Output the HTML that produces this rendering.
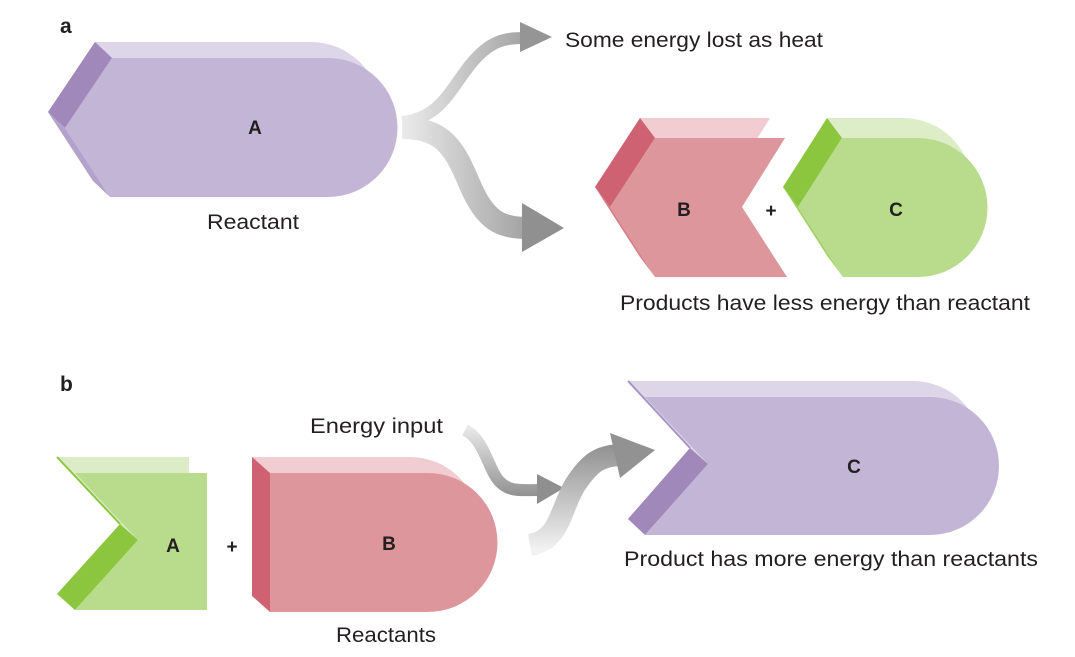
<!DOCTYPE html>
<html><head><meta charset="utf-8"><style>
html,body{margin:0;padding:0;background:#fff;}
svg{display:block}
text{font-family:"Liberation Sans",sans-serif;fill:#231f20;}
</style></head><body>
<svg width="1075" height="657" viewBox="0 0 1075 657" xmlns="http://www.w3.org/2000/svg">
<defs>
<linearGradient id="g2" gradientUnits="userSpaceOnUse" x1="400" y1="0" x2="565" y2="0"><stop offset="0" stop-color="#ececec"/><stop offset="1" stop-color="#8c8c8c"/></linearGradient>
<linearGradient id="g3" gradientUnits="userSpaceOnUse" x1="0" y1="425" x2="0" y2="500"><stop offset="0" stop-color="#ececec"/><stop offset="1" stop-color="#8c8c8c"/></linearGradient>
<linearGradient id="g4" gradientUnits="userSpaceOnUse" x1="0" y1="550" x2="0" y2="440"><stop offset="0" stop-color="#f2f2f2"/><stop offset="1" stop-color="#8c8c8c"/></linearGradient>
</defs>

<text x="60" y="33" font-size="21" font-weight="bold">a</text>
<text x="60" y="391" font-size="21" font-weight="bold">b</text>

<!-- Top A -->
<path d="M95,42 L311,42 A69.5,69.5 0 0 1 311,181 L93,181 L48,112 Z" fill="#ddd5e8"/>
<path d="M95,42 L112,58 L65,128 L48,112 Z" fill="#a088bb"/>
<path d="M48,112 L65,128 L110,197 L93,181 Z" fill="#b3a2cb"/>
<path d="M112,58 L328,58 A69.5,69.5 0 0 1 328,197 L110,197 L65,128 Z" fill="#c3b5d6"/>
<text x="255" y="134" font-size="19" font-weight="bold" text-anchor="middle">A</text>
<text x="253" y="229" font-size="21" text-anchor="middle" textLength="92" lengthAdjust="spacingAndGlyphs">Reactant</text>

<!-- arrows top -->
<path d="M402,122 C440,118 450,90 470,65 C490,40 505,38 525,38" fill="none" stroke="url(#g2)" stroke-width="12"/>
<polygon points="520,22 552,37 520,52" fill="#959595"/>
<path d="M402,128 C445,128 455,150 470,185 C485,220 500,228 527,228" fill="none" stroke="url(#g2)" stroke-width="22"/>
<polygon points="522,203 564,228 522,252" fill="#909090"/>
<text x="565" y="47" font-size="21" textLength="258" lengthAdjust="spacingAndGlyphs">Some energy lost as heat</text>

<!-- Top B -->
<path d="M640,118 L770,118 L727,187 L772,257 L640,257 L595,187 Z" fill="#f1ccd0"/>
<path d="M640,118 L655,138 L610,207 L595,187 Z" fill="#cf6272"/>
<path d="M595,187 L610,207 L655,277 L640,257 Z" fill="#d67d87"/>
<path d="M655,138 L785,138 L742,207 L787,277 L655,277 L610,207 Z" fill="#dd979c"/>
<text x="684" y="216" font-size="19" font-weight="bold" text-anchor="middle">B</text>
<text x="771" y="217" font-size="19" font-weight="bold" text-anchor="middle">+</text>

<!-- Top C -->
<path d="M827,118 L903,118 A69.5,69.5 0 0 1 903,257 L828,257 L783,187 Z" fill="#ddedc7"/>
<path d="M827,118 L842,138 L798,207 L783,187 Z" fill="#8cc63f"/>
<path d="M783,187 L798,207 L843,277 L828,257 Z" fill="#a2d062"/>
<path d="M842,138 L918,138 A69.5,69.5 0 0 1 918,277 L843,277 L798,207 Z" fill="#b8dc8c"/>
<text x="896" y="216" font-size="19" font-weight="bold" text-anchor="middle">C</text>
<text x="620" y="310" font-size="21" textLength="410" lengthAdjust="spacingAndGlyphs">Products have less energy than reactant</text>

<!-- Bottom A green -->
<path d="M57,457 L189,457 L189,594 L57,594 L120,524 Z" fill="#dbecc6"/>
<path d="M120,524 L138,540 L75,610 L57,594 Z" fill="#8cc63f"/>
<path d="M75,473 L207,473 L207,610 L75,610 L138,540 Z" fill="#b8dc8c"/>
<path d="M57,457 L120,524" stroke="#8cc63f" stroke-width="2"/>
<text x="173" y="552" font-size="19" font-weight="bold" text-anchor="middle">A</text>
<text x="232" y="553" font-size="19" font-weight="bold" text-anchor="middle">+</text>

<!-- Bottom B red -->
<path d="M252,457 L410,457 A69.5,69.5 0 0 1 410,596 L252,596 Z" fill="#f1ccd0"/>
<path d="M252,457 L270,473 L270,612 L252,596 Z" fill="#cf6272"/>
<path d="M270,473 L428,473 A69.5,69.5 0 0 1 428,612 L270,612 Z" fill="#dd979c"/>
<text x="389" y="550" font-size="19" font-weight="bold" text-anchor="middle">B</text>
<text x="386" y="642" font-size="21" text-anchor="middle" textLength="100" lengthAdjust="spacingAndGlyphs">Reactants</text>

<!-- Energy input -->
<text x="310" y="433" font-size="21" textLength="133" lengthAdjust="spacingAndGlyphs">Energy input</text>
<path d="M465,430 C485,440 488,470 500,482 C510,492 520,490 540,490" fill="none" stroke="url(#g3)" stroke-width="12"/>
<polygon points="537,474 564,488 537,504" fill="#8f8f8f"/>
<path d="M530,545 C560,540 560,510 575,485 C590,462 600,456 620,455" fill="none" stroke="url(#g4)" stroke-width="22"/>
<polygon points="610,433 655,450 620,478" fill="#929292"/>

<!-- Bottom C purple -->
<path d="M628,381 L913,381 A69,69 0 0 1 913,519 L628,519 L690,448 Z" fill="#ddd5e8"/>
<path d="M690,448 L708,464 L645,535 L628,519 Z" fill="#a088bb"/>
<path d="M645,397 L930,397 A69,69 0 0 1 930,535 L645,535 L708,464 Z" fill="#c3b5d6"/>
<path d="M628,381 L690,448" stroke="#a994c4" stroke-width="2"/>
<text x="854" y="473" font-size="19" font-weight="bold" text-anchor="middle">C</text>
<text x="624" y="566" font-size="21" textLength="414" lengthAdjust="spacingAndGlyphs">Product has more energy than reactants</text>
</svg>
</body></html>
